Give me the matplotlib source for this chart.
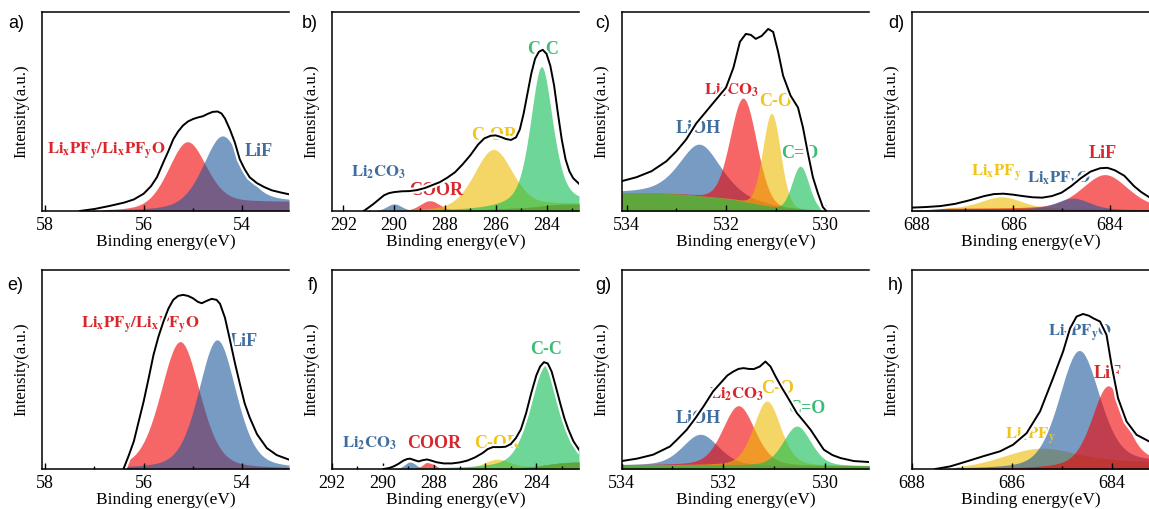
import numpy as np
import matplotlib.pyplot as plt
from matplotlib import patheffects as pe

plt.rcParams['font.family'] = 'Liberation Serif'
plt.rcParams['mathtext.fontset'] = 'stix'

# ---- data (intensity as fraction of panel height) ----
# a) Li 1s, cycled
A_NAMES = [r'$\mathbf{Li_xPF_y/Li_xPF_yO}$', 'LiF']
A_COLORS = ['red', 'blue']
A_CENTER = [55.12, 54.41]
A_HEIGHT = [0.335, 0.345]
A_FWHM = [0.92, 0.92]
A_ETA = [0.3, 0.4]
A_BG = [0.0, 0.045]
A_ENV_X = [57.3, 57.0, 56.7, 56.4, 56.2, 56.0, 55.85, 55.73, 55.6, 55.5, 55.4, 55.3, 55.2, 55.1,
           55.0, 54.9, 54.8, 54.7, 54.6, 54.5, 54.42, 54.35, 54.25, 54.15, 54.05, 53.95, 53.85,
           53.7, 53.55, 53.4, 53.2, 53.05]
A_ENV_Y = [0.0, 0.01, 0.025, 0.042, 0.058, 0.087, 0.125, 0.17, 0.245, 0.30, 0.36, 0.40, 0.43, 0.45,
           0.462, 0.47, 0.476, 0.488, 0.498, 0.50, 0.49, 0.465, 0.41, 0.345, 0.26, 0.21, 0.17,
           0.14, 0.12, 0.104, 0.092, 0.084]

# b) C 1s
B_NAMES = [r'$\mathbf{Li_2CO_3}$', 'COOR', 'C-OR', 'C-C']
B_COLORS = ['blue', 'red', 'yellow', 'green']
B_CENTER = [290.0, 288.6, 286.1, 284.2]
B_HEIGHT = [0.035, 0.05, 0.30, 0.70]
B_FWHM = [0.7, 0.9, 1.8, 1.05]
B_ETA = [0.2, 0.2, 0.3, 0.5]
B_BG = [0.0, 0.035]
B_ENV_X = [291.2, 291.0, 290.8, 290.6, 290.4, 290.2, 290.0, 289.7, 289.4, 289.1, 288.8, 288.5,
           288.2, 287.9, 287.6, 287.3, 287.0, 286.7, 286.45, 286.2, 286.0, 285.8, 285.6, 285.4,
           285.2, 285.05, 284.9, 284.75, 284.6, 284.45, 284.3, 284.15, 284.0, 283.85, 283.7,
           283.55, 283.4, 283.25, 283.1, 282.95, 282.72]
B_ENV_Y = [0.0, 0.018, 0.037, 0.058, 0.079, 0.09, 0.095, 0.099, 0.10, 0.105, 0.115, 0.13,
           0.145, 0.168, 0.195, 0.235, 0.28, 0.333, 0.365, 0.378, 0.38, 0.372, 0.362, 0.357,
           0.37, 0.41, 0.49, 0.59, 0.69, 0.765, 0.80, 0.81, 0.79, 0.73, 0.63,
           0.49, 0.36, 0.26, 0.20, 0.165, 0.137]

# c) O 1s
C_NAMES = ['LiOH', r'$\mathbf{Li_2CO_3}$', 'C-O', 'C=O']
C_COLORS = ['blue', 'red', 'yellow', 'green']
C_CENTER = [532.53, 531.65, 531.08, 530.5]
C_HEIGHT = [0.26, 0.52, 0.47, 0.22]
C_FWHM = [1.0, 0.62, 0.42, 0.4]
C_ETA = [0.5, 0.1, 0.1, 0.1]
C_BG = [0.09, 0.0]
C_ENV_X = [534.1, 533.8, 533.5, 533.2, 533.0, 532.8, 532.6, 532.4, 532.2, 532.0, 531.85, 531.72,
           531.6, 531.5, 531.4, 531.28, 531.15, 531.05, 530.95, 530.85, 530.7, 530.55, 530.45,
           530.35, 530.25, 530.15, 530.05, 529.98]
C_ENV_Y = [0.15, 0.17, 0.20, 0.25, 0.30, 0.36, 0.44, 0.50, 0.56, 0.62, 0.72, 0.85,
           0.89, 0.885, 0.865, 0.88, 0.915, 0.90, 0.80, 0.68, 0.58, 0.52, 0.42,
           0.29, 0.17, 0.09, 0.02, 0.0]

# d) F 1s
D_NAMES = [r'$\mathbf{Li_xPF_y}$', 'LiF', r'$\mathbf{Li_xPF_yO}$']
D_COLORS = ['yellow', 'red', 'blue']
D_CENTER = [686.24, 684.1, 684.76]
D_HEIGHT = [0.06, 0.175, 0.055]
D_FWHM = [1.0, 1.15, 0.8]
D_ETA = [0.3, 0.4, 0.3]
D_BG = [0.012, 0.006]
D_ENV_X = [688.1, 687.8, 687.5, 687.2, 686.9, 686.6, 686.4, 686.2, 686.0, 685.8, 685.6, 685.4,
           685.2, 685.0, 684.8, 684.6, 684.4, 684.2, 684.05, 683.9, 683.7, 683.5, 683.35, 683.19]
D_ENV_Y = [0.017, 0.02, 0.025, 0.036, 0.054, 0.075, 0.085, 0.087, 0.082, 0.075, 0.069, 0.067,
           0.075, 0.092, 0.125, 0.165, 0.198, 0.215, 0.217, 0.205, 0.177, 0.125, 0.095, 0.07]

# e) Li 1s
E_NAMES = [r'$\mathbf{Li_xPF_y/Li_xPF_yO}$', 'LiF']
E_COLORS = ['red', 'blue']
E_CENTER = [55.26, 54.51]
E_HEIGHT = [0.64, 0.649]
E_FWHM = [0.94, 0.9]
E_ETA = [0.3, 0.35]
E_BG = [0.0, 0.0]
E_ENV_X = [56.41, 56.3, 56.2, 56.1, 56.0, 55.9, 55.8, 55.7, 55.6, 55.5, 55.4, 55.3, 55.2, 55.1,
           55.0, 54.9, 54.82, 54.72, 54.62, 54.52, 54.45, 54.35, 54.25, 54.15, 54.05, 53.95,
           53.85, 53.7, 53.5, 53.3, 53.05]
E_ENV_Y = [0.0, 0.07, 0.139, 0.24, 0.34, 0.455, 0.574, 0.665, 0.74, 0.805, 0.85, 0.87, 0.875, 0.87,
           0.858, 0.84, 0.833, 0.845, 0.855, 0.85, 0.83, 0.76, 0.65, 0.535, 0.43, 0.33,
           0.26, 0.175, 0.105, 0.07, 0.047]

# f) C 1s
F_NAMES = [r'$\mathbf{Li_2CO_3}$', 'COOR', 'C-OR', 'C-C']
F_COLORS = ['blue', 'red', 'yellow', 'green']
F_CENTER = [288.93, 288.21, 285.53, 283.63]
F_HEIGHT = [0.035, 0.035, 0.045, 0.50]
F_FWHM = [0.5, 0.5, 1.2, 1.45]
F_ETA = [0.2, 0.2, 0.3, 0.4]
F_BG = [0.0, 0.035]
F_ENV_X = [289.97, 289.75, 289.58, 289.4, 289.2, 289.05, 288.93, 288.8, 288.6, 288.45, 288.27,
           288.1, 287.9, 287.62, 287.3, 287.0, 286.7, 286.4, 286.1, 285.9, 285.7, 285.4, 285.2,
           285.0, 284.8, 284.6, 284.4, 284.2, 284.0, 283.85, 283.7, 283.55, 283.4, 283.25,
           283.05, 282.9, 282.75, 282.55, 282.33]
F_ENV_Y = [0.0, 0.005, 0.013, 0.025, 0.042, 0.05, 0.052, 0.046, 0.038, 0.044, 0.048,
           0.042, 0.034, 0.028, 0.028, 0.033, 0.042, 0.058, 0.08, 0.10, 0.11, 0.11, 0.112,
           0.125, 0.155, 0.20, 0.28, 0.38, 0.47, 0.515, 0.537, 0.53, 0.49, 0.42,
           0.323, 0.255, 0.20, 0.14, 0.097]

# g) O 1s
G_NAMES = ['LiOH', r'$\mathbf{Li_2CO_3}$', 'C-O', 'C=O']
G_COLORS = ['blue', 'red', 'yellow', 'green']
G_CENTER = [532.45, 531.7, 531.14, 530.55]
G_HEIGHT = [0.155, 0.30, 0.325, 0.20]
G_FWHM = [0.84, 0.75, 0.63, 0.65]
G_ETA = [0.3, 0.3, 0.3, 0.3]
G_BG = [0.02, 0.015]
G_ENV_X = [534.0, 533.7, 533.38, 533.05, 532.9, 532.72, 532.55, 532.39, 532.2, 532.06, 531.92,
           531.8, 531.7, 531.6, 531.5, 531.4, 531.28, 531.17, 531.07, 530.97, 530.85, 530.74,
           530.55, 530.4, 530.28, 530.15, 530.02, 529.85, 529.69, 529.43, 529.13]
G_ENV_Y = [0.04, 0.052, 0.072, 0.113, 0.15, 0.197, 0.255, 0.314, 0.39, 0.43, 0.47,
           0.49, 0.503, 0.507, 0.503, 0.502, 0.515, 0.54, 0.515, 0.465, 0.41, 0.364,
           0.281, 0.235, 0.197, 0.147, 0.097, 0.07, 0.055, 0.04, 0.035]

# h) F 1s
H_NAMES = [r'$\mathbf{Li_xPF_y}$', r'$\mathbf{Li_xPF_yO}$', 'LiF']
H_COLORS = ['yellow', 'blue', 'red']
H_CENTER = [685.43, 684.65, 684.07]
H_HEIGHT = [0.1, 0.58, 0.39]
H_FWHM = [1.8, 0.95, 0.77]
H_ETA = [0.2, 0.3, 0.35]
H_BG = [0.0, 0.035]
H_ENV_X = [687.53, 687.23, 686.9, 686.57, 686.23, 685.97, 685.7, 685.43, 685.17, 684.97, 684.83,
           684.7, 684.57, 684.45, 684.37, 684.23, 684.1, 684.0, 683.87, 683.7, 683.5, 683.25]
H_ENV_Y = [0.0, 0.013, 0.038, 0.064, 0.089, 0.122, 0.18, 0.29, 0.457, 0.59, 0.707,
           0.766, 0.779, 0.77, 0.758, 0.741, 0.674, 0.523, 0.356, 0.239, 0.172, 0.139]

# ---- styling / layout ----
FILL = {'red': '#F30000', 'blue': '#1E589B', 'yellow': '#EEBC00', 'green': '#0DBC50'}
TEXT = {'red': '#D9262C', 'blue': '#3F6E9E', 'yellow': '#F0C419', 'green': '#3DBB74'}
W, H = 1149, 509


def pseudo_voigt(x, center, height, fwhm, eta):
    u = (x - center) / fwhm
    gauss = np.exp(-4 * np.log(2) * u ** 2)
    lorentz = 1 / (1 + 4 * u ** 2)
    return height * ((1 - eta) * gauss + eta * lorentz)


def draw_panel(box, xlim, ticks, tag, tag_xy, env_x, env_y, names, colors, centers, heights,
               fwhms, etas, bg, label_xy):
    left, top, right, bottom = box
    ax = fig.add_axes([left / W, 1 - bottom / H, (right - left) / W, (bottom - top) / H])
    x = np.linspace(min(env_x), max(env_x), 600)
    peaks = np.array([pseudo_voigt(x, c, h, w, e)
                      for c, h, w, e in zip(centers, heights, fwhms, etas)])
    # Shirley-type background (x ascending: low binding energy first)
    cum = np.cumsum(peaks.sum(axis=0))
    base = bg[1] + (bg[0] - bg[1]) * cum / cum[-1]
    for p, col in zip(peaks, colors):
        ax.fill_between(x, 0, base + p, color=FILL[col], alpha=0.6, lw=0, zorder=1)
    for name, col, (lx, ly) in zip(names, colors, label_xy):
        size = 12 if name.startswith('$') else 13
        ax.text(lx, ly, name, color=TEXT[col], ha='center', va='center', fontsize=size,
                fontweight='bold', zorder=2)
    ax.plot(env_x, env_y, color='black', lw=1.4, zorder=3, solid_joinstyle='round',
            path_effects=[pe.Stroke(linewidth=4.5, foreground='white'), pe.Normal()])
    minor = [t for t in np.arange(min(ticks) - 1, max(ticks) + 2, 2)
             if min(xlim) < t < max(xlim)]
    ax.set_xticks(ticks)
    ax.set_xticks(minor, minor=True)
    ax.set_xlim(*xlim)
    ax.set_ylim(0, 1)
    ax.set_yticks([])
    ax.tick_params(axis='x', which='major', direction='in', length=4, width=1, labelsize=13, pad=4)
    ax.tick_params(axis='x', which='minor', direction='in', length=2.5, width=1)
    ax.spines['right'].set_visible(False)
    for s in ('left', 'top', 'bottom'):
        ax.spines[s].set_linewidth(1.1)
        ax.spines[s].set_zorder(5)
    ax.set_xlabel('Binding energy(eV)', fontsize=12.5, labelpad=0)
    ax.set_ylabel('Intensity(a.u.)', fontsize=12, labelpad=9)
    fig.text(tag_xy[0] / W, 1 - tag_xy[1] / H, tag, family='Liberation Sans', fontsize=13,
             ha='left', va='center')
    return ax


fig = plt.figure(figsize=(W / 100, H / 100), dpi=100)

TOP = (12, 211)
BOT = (270, 469)

draw_panel((41.7, TOP[0], 289, TOP[1]), (58.07, 53.05), [58, 56, 54], 'a)', (8, 23),
           A_ENV_X, A_ENV_Y, A_NAMES, A_COLORS, A_CENTER, A_HEIGHT, A_FWHM, A_ETA, A_BG,
           [(56.75, 0.30), (53.66, 0.30)])
draw_panel((331.7, TOP[0], 579, TOP[1]), (292.46, 282.72), [292, 290, 288, 286, 284], 'b)', (302, 23),
           B_ENV_X, B_ENV_Y, B_NAMES, B_COLORS, B_CENTER, B_HEIGHT, B_FWHM, B_ETA, B_BG,
           [(290.6, 0.195), (288.34, 0.105), (286.08, 0.378), (284.13, 0.81)])
draw_panel((621.7, TOP[0], 869, TOP[1]), (534.1, 529.12), [534, 532, 530], 'c)', (595, 23),
           C_ENV_X, C_ENV_Y, C_NAMES, C_COLORS, C_CENTER, C_HEIGHT, C_FWHM, C_ETA, C_BG,
           [(532.56, 0.414), (531.89, 0.606), (531.01, 0.548), (530.51, 0.291)])
draw_panel((911.7, TOP[0], 1149, TOP[1]), (688.1, 683.19), [688, 686, 684], 'd)', (888, 23),
           D_ENV_X, D_ENV_Y, D_NAMES, D_COLORS, D_CENTER, D_HEIGHT, D_FWHM, D_ETA, D_BG,
           [(686.34, 0.188), (684.14, 0.288), (685.05, 0.155)])
draw_panel((41.7, BOT[0], 289, BOT[1]), (58.07, 53.05), [58, 56, 54], 'e)', (7, 286),
           E_ENV_X, E_ENV_Y, E_NAMES, E_COLORS, E_CENTER, E_HEIGHT, E_FWHM, E_ETA, E_BG,
           [(56.07, 0.724), (53.97, 0.64)])
draw_panel((331.7, BOT[0], 579, BOT[1]), (292.0, 282.33), [292, 290, 288, 286, 284], 'f)', (308, 286),
           F_ENV_X, F_ENV_Y, F_NAMES, F_COLORS, F_CENTER, F_HEIGHT, F_FWHM, F_ETA, F_BG,
           [(290.5, 0.13), (288.0, 0.13), (285.53, 0.13), (283.63, 0.60)])
draw_panel((621.7, BOT[0], 869, BOT[1]), (534.0, 529.13), [534, 532, 530], 'g)', (595, 286),
           G_ENV_X, G_ENV_Y, G_NAMES, G_COLORS, G_CENTER, G_HEIGHT, G_FWHM, G_ETA, G_BG,
           [(532.49, 0.256), (531.73, 0.373), (530.94, 0.406), (530.35, 0.306)])
draw_panel((911.7, BOT[0], 1149, BOT[1]), (688.0, 683.25), [688, 686, 684], 'h)', (888, 286),
           H_ENV_X, H_ENV_Y, H_NAMES, H_COLORS, H_CENTER, H_HEIGHT, H_FWHM, H_ETA, H_BG,
           [(685.63, 0.164), (684.63, 0.682), (684.07, 0.482)])

fig.savefig('out.png', dpi=100)
